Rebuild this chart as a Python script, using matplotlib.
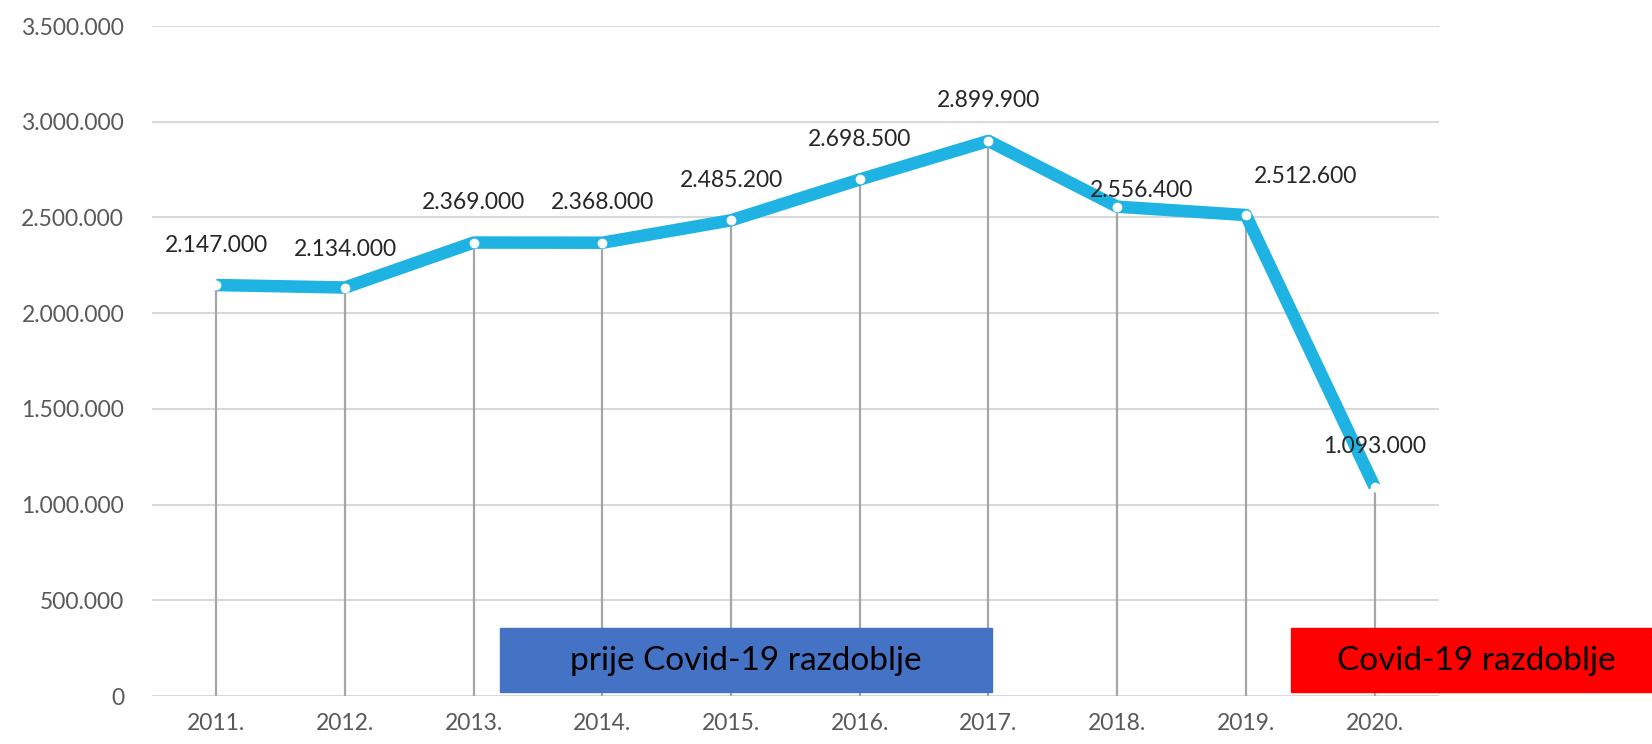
import matplotlib.pyplot as plt
from matplotlib.patches import Rectangle
from matplotlib.ticker import FuncFormatter

plt.rcParams['font.family'] = ['Lato', 'DejaVu Sans']

years = ['2011.', '2012.', '2013.', '2014.', '2015.', '2016.', '2017.', '2018.', '2019.', '2020.']
values = [2147000, 2134000, 2369000, 2368000, 2485200, 2698500, 2899900, 2556400, 2512600, 1093000]
# label offsets in pixels (dx, dy)
offsets = [(0, 40), (0, 38), (0, 40), (0, 40), (0, 40), (0, 40), (0, 40), (24, 16), (60, 39), (0, 40)]


def fmt(v):
    return f'{int(v):,}'.replace(',', '.')


fig = plt.figure(figsize=(16.52, 7.44), dpi=100)
ax = fig.add_axes([0.092, 0.0645, 0.779, 0.9005])

x = list(range(len(years)))
ax.vlines(x, 0, values, color='#a6a6a6', lw=1.6, zorder=2)
ax.plot(x, values, color='#1fb3e3', lw=9, solid_capstyle='butt', zorder=3)
ax.plot(x, values, 'o', ms=6, mfc='white', mec='white', zorder=4)

for xi, v, (dx, dy) in zip(x, values, offsets):
    ax.annotate(fmt(v), (xi, v), xytext=(dx, dy), textcoords='offset pixels',
                ha='center', va='center', fontsize=16.5, color='#262626')

ax.set_xlim(-0.5, len(years) - 0.5)
ax.set_ylim(0, 3500000)
ax.set_yticks(range(0, 3500001, 500000))
ax.yaxis.set_major_formatter(FuncFormatter(lambda v, p: fmt(v)))
ax.set_xticks(x)
ax.set_xticklabels(years)
ax.grid(axis='y', color='#d9d9d9', lw=1.5)
ax.set_axisbelow(True)
for s in ax.spines.values():
    s.set_visible(False)
ax.tick_params(length=0, labelsize=16.5, labelcolor='#595959')
ax.tick_params(axis='y', pad=20)
ax.tick_params(axis='x', pad=12)

W, H = 1652, 744
fig.add_artist(Rectangle((500 / W, 1 - 692 / H), 492 / W, 64 / H, transform=fig.transFigure,
                         color='#4472c4', zorder=5))
fig.text(746 / W, 1 - 661 / H, 'prije Covid-19 razdoblje', ha='center', va='center',
         fontsize=24, color='black', zorder=6)
fig.add_artist(Rectangle((1291 / W, 1 - 692 / H), 361 / W, 64 / H, transform=fig.transFigure,
                         color='#ff0000', zorder=5))
fig.text(1476 / W, 1 - 661 / H, 'Covid-19 razdoblje', ha='center', va='center',
         fontsize=24, color='black', zorder=6)

fig.savefig('out.png', dpi=100)
